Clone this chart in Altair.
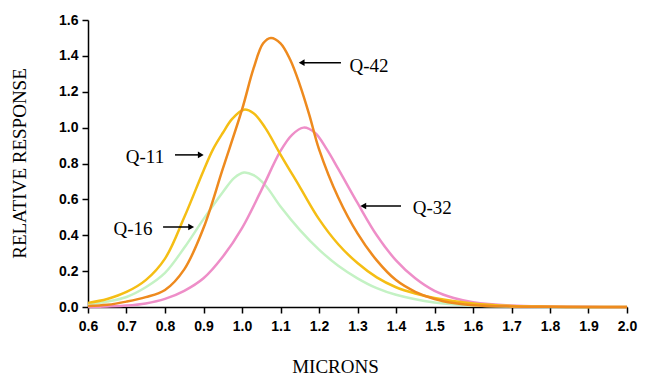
import altair as alt
import pandas as pd

# ---- data ----
q42_x = [0.6, 0.65, 0.7, 0.75, 0.8, 0.85, 0.9, 0.95, 1.0, 1.03, 1.055, 1.075, 1.1, 1.125, 1.15, 1.175, 1.2, 1.25, 1.3, 1.35, 1.4, 1.45, 1.5, 1.55, 1.6, 1.7, 1.8, 1.9, 2.0]
q42_y = [0.005, 0.012, 0.03, 0.055, 0.095, 0.21, 0.44, 0.77, 1.10, 1.33, 1.47, 1.50, 1.47, 1.38, 1.24, 1.07, 0.88, 0.61, 0.41, 0.26, 0.15, 0.085, 0.045, 0.022, 0.01, 0.003, 0.001, 0.0, 0.0]

q11_x = [0.6, 0.65, 0.7, 0.75, 0.8, 0.85, 0.9, 0.925, 0.95, 0.975, 1.005, 1.03, 1.06, 1.1, 1.15, 1.2, 1.25, 1.3, 1.35, 1.4, 1.45, 1.5, 1.6, 1.7, 1.8, 1.9, 2.0]
q11_y = [0.023, 0.045, 0.084, 0.15, 0.27, 0.50, 0.76, 0.88, 0.97, 1.05, 1.10, 1.08, 1.0, 0.85, 0.67, 0.49, 0.35, 0.245, 0.165, 0.11, 0.075, 0.05, 0.02, 0.006, 0.002, 0.0, 0.0]

q16_x = [0.6, 0.65, 0.7, 0.75, 0.8, 0.85, 0.9, 0.95, 0.98, 1.005, 1.03, 1.06, 1.1, 1.15, 1.2, 1.25, 1.3, 1.35, 1.4, 1.5, 1.6, 1.7, 1.8, 1.9, 2.0]
q16_y = [0.015, 0.03, 0.056, 0.11, 0.19, 0.33, 0.49, 0.64, 0.72, 0.75, 0.735, 0.68, 0.56, 0.43, 0.32, 0.23, 0.16, 0.105, 0.068, 0.025, 0.008, 0.002, 0.0, 0.0, 0.0]

q32_x = [0.6, 0.65, 0.7, 0.75, 0.8, 0.85, 0.9, 0.95, 1.0, 1.05, 1.1, 1.13, 1.16, 1.19, 1.22, 1.25, 1.3, 1.35, 1.4, 1.45, 1.5, 1.55, 1.6, 1.7, 1.8, 1.9, 2.0]
q32_y = [0.0, 0.003, 0.008, 0.02, 0.045, 0.09, 0.16, 0.28, 0.44, 0.65, 0.87, 0.96, 1.0, 0.97, 0.88, 0.77, 0.58, 0.40, 0.26, 0.16, 0.09, 0.05, 0.027, 0.008, 0.003, 0.001, 0.0]

series_names = ["Q-16", "Q-32", "Q-11", "Q-42"]
series_colors = ["#C4F2C4", "#EE8EC8", "#F5BE14", "#EE8A1E"]

x_ticks = [0.6, 0.7, 0.8, 0.9, 1.0, 1.1, 1.2, 1.3, 1.4, 1.5, 1.6, 1.7, 1.8, 1.9, 2.0]
y_ticks = [0.0, 0.2, 0.4, 0.6, 0.8, 1.0, 1.2, 1.4, 1.6]

# annotations: label, text position, arrow from (a1, ay) to (a2, ay)
ann_label = ["Q-42", "Q-11", "Q-16", "Q-32"]
ann_tx = [1.33, 0.748, 0.717, 1.494]
ann_ty = [1.345, 0.837, 0.435, 0.552]
ann_a1 = [1.257, 0.826, 0.795, 1.413]
ann_a2 = [1.155, 0.893, 0.868, 1.315]
ann_ay = [1.362, 0.848, 0.446, 0.563]
ann_dir = ["left", "right", "right", "left"]

# ---- build tables ----
rows = []
for name, xs, ys in [("Q-16", q16_x, q16_y), ("Q-32", q32_x, q32_y),
                     ("Q-11", q11_x, q11_y), ("Q-42", q42_x, q42_y)]:
    for x, y in zip(xs, ys):
        rows.append({"series": name, "microns": x, "response": y})
df = pd.DataFrame(rows)

ann = pd.DataFrame({"label": ann_label, "tx": ann_tx, "ty": ann_ty,
                    "a1": ann_a1, "a2": ann_a2, "ay": ann_ay, "dir": ann_dir})

xscale = alt.Scale(domain=[0.6, 2.0], nice=False, zero=False)
yscale = alt.Scale(domain=[0.0, 1.6], nice=False)

label_style = dict(labelFont="Liberation Sans", labelFontWeight="bold", labelFontSize=14,
                   labelColor="black", labelOverlap=False, labelFlush=False)

x_axis = alt.Axis(values=x_ticks, format=".1f", title="MICRONS", grid=False,
                  labelPadding=6, **label_style,
                  titleX=247, titleY=59, titleBaseline="middle", titleAlign="center")
y_axis = alt.Axis(values=y_ticks, format=".1f", title="RELATIVE RESPONSE", grid=False,
                  labelPadding=4, **label_style,
                  titleX=-69, titleY=143, titleAngle=-90, titleBaseline="middle",
                  titleAlign="center")

layers = []
for name in series_names:
    layers.append(
        alt.Chart(df).transform_filter(alt.datum.series == name)
        .mark_line(strokeWidth=2.5, interpolate="catmull-rom")
        .encode(
            x=alt.X("microns:Q", scale=xscale, axis=x_axis),
            y=alt.Y("response:Q", scale=yscale, axis=y_axis),
            color=alt.Color("series:N", scale=alt.Scale(domain=series_names, range=series_colors), legend=None),
        )
    )

arrows = alt.Chart(ann).mark_rule(color="black", strokeWidth=1.5).encode(
    x=alt.X("a1:Q", axis=x_axis), x2="a2:Q", y=alt.Y("ay:Q", axis=y_axis))
heads = alt.Chart(ann).mark_point(filled=True, color="black", size=45, opacity=1).encode(
    x=alt.X("a2:Q", axis=x_axis), y=alt.Y("ay:Q", axis=y_axis),
    shape=alt.Shape("dir:N", scale=alt.Scale(domain=["left", "right"],
                                             range=["triangle-left", "triangle-right"]), legend=None))
texts = alt.Chart(ann).mark_text(font="Liberation Serif", fontSize=19, color="black",
                                 align="center", baseline="middle").encode(
    x=alt.X("tx:Q", axis=x_axis), y=alt.Y("ty:Q", axis=y_axis), text="label:N")

chart = alt.layer(*layers, arrows, heads, texts).resolve_scale(color="shared").properties(
    width=539, height=287,
    autosize=alt.AutoSizeParams(type="none"),
    padding={"left": 80, "top": 12, "right": 17, "bottom": 72},
).configure_view(stroke=None).configure_axis(
    domainColor="black", domainWidth=1.5, tickColor="black", tickWidth=1.5, tickSize=6,
    titleFont="Liberation Serif", titleFontWeight="normal", titleFontSize=19, titleColor="black",
)

chart.save("out.html", embed_options={"renderer": "svg", "actions": False})
